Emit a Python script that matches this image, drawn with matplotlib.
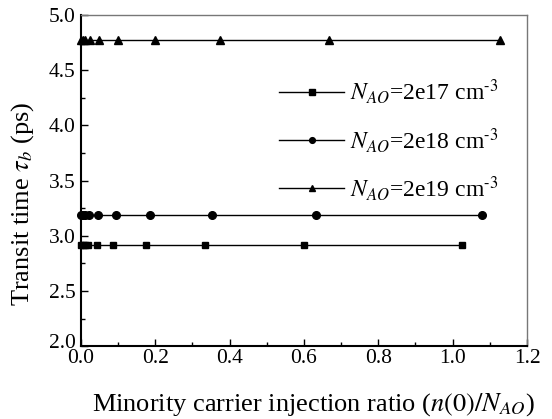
import matplotlib
matplotlib.use("Agg")
import matplotlib.pyplot as plt
import matplotlib.transforms as mtransforms
from matplotlib.ticker import MultipleLocator, FormatStrFormatter

plt.rcParams['font.family'] = ['Liberation Serif', 'DejaVu Serif']
plt.rcParams['mathtext.fontset'] = 'stix'

x_2e17 = [0.0, 0.005, 0.01, 0.02, 0.044, 0.087, 0.175, 0.335, 0.60, 1.025]
y_2e17 = [2.92] * len(x_2e17)
x_2e18 = [0.0, 0.006, 0.011, 0.022, 0.045, 0.093, 0.185, 0.353, 0.633, 1.078]
y_2e18 = [3.19] * len(x_2e18)
x_2e19 = [0.0, 0.006, 0.012, 0.024, 0.049, 0.10, 0.199, 0.374, 0.668, 1.127]
y_2e19 = [4.77] * len(x_2e19)
labels = [r'$N_{AO}$=2e17 cm$^{\text{-3}}$', r'$N_{AO}$=2e18 cm$^{\text{-3}}$',
          r'$N_{AO}$=2e19 cm$^{\text{-3}}$']

fig = plt.figure(figsize=(5.52, 4.19), dpi=100)
ax = fig.add_axes([0.1467, 0.174, 0.808, 0.790])

ax.plot(x_2e17, y_2e17, '-s', color='black', lw=1, ms=5, label=labels[0], clip_on=False)
ax.plot(x_2e18, y_2e18, '-o', color='black', lw=1, ms=5.5, label=labels[1], clip_on=False)
ax.plot(x_2e19, y_2e19, '-^', color='black', lw=1, ms=6, label=labels[2], clip_on=False)

ax.set_xlim(0, 1.2)
ax.set_ylim(2.0, 5.0)
ax.xaxis.set_major_locator(MultipleLocator(0.2))
ax.xaxis.set_minor_locator(MultipleLocator(0.1))
ax.yaxis.set_major_locator(MultipleLocator(0.5))
ax.yaxis.set_minor_locator(MultipleLocator(0.25))
ax.tick_params(which='both', direction='in', top=False, right=False, labelsize=15.5, width=1)
ax.tick_params(axis='y', pad=4)
ax.tick_params(axis='x', pad=2)
ax.tick_params(which='major', length=5)
ax.tick_params(which='minor', length=3)
ax.xaxis.set_major_formatter(FormatStrFormatter('%.1f'))
ax.yaxis.set_major_formatter(FormatStrFormatter('%.1f'))

ax.spines['left'].set_linewidth(1.5)
ax.spines['bottom'].set_linewidth(1.5)
ax.spines['top'].set_color('#777777')
ax.spines['right'].set_color('#777777')
ax.spines['top'].set_linewidth(1)
ax.spines['right'].set_linewidth(1)

ax.set_xlabel(r'Minority carrier injection ratio ($\mathit{n(0)/N}_{\mathit{AO}}$)', fontsize=19)
ax.set_ylabel(r'Transit time $\tau_b$ (ps)', fontsize=19)
ax.xaxis.set_label_coords(0.522, -0.135)
ax.yaxis.set_label_coords(-0.10, 0.43)

# nudge the lowest y tick label up a little (as in the reference)
fig.canvas.draw()
for lbl in ax.get_yticklabels():
    if lbl.get_text() == '2.0':
        lbl.set_transform(lbl.get_transform() + mtransforms.ScaledTranslation(0, 4/72, fig.dpi_scale_trans))

leg = ax.legend(loc='upper right', bbox_to_anchor=(0.984, 0.876), frameon=False, fontsize=17,
                handlelength=2.75, markerscale=0.75, labelspacing=0.82, handletextpad=0.25)

fig.savefig('out.png', dpi=100)
